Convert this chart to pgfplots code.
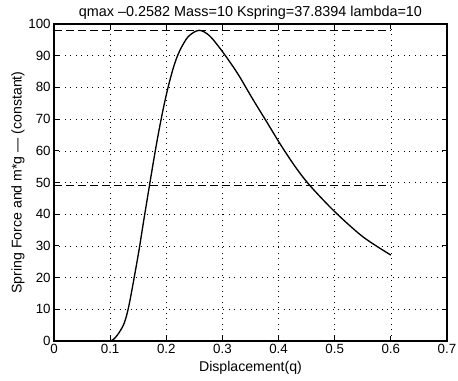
\documentclass[border=0pt]{standalone}
\usepackage{pgfplots}
\pgfplotsset{compat=1.18}
\usepackage{fontspec}
\setmainfont{Liberation Sans}
\begin{document}
\begin{tikzpicture}[x=1pt,y=1pt]
\begin{axis}[
  scale only axis,
  width=294.75pt, height=237.75pt,
  xmin=0, xmax=0.7, ymin=0, ymax=100,
  xtick={0,0.1,...,0.7}, ytick={0,10,...,100},
  xticklabels={0,0.1,0.2,0.3,0.4,0.5,0.6,0.7},
  /pgf/number format/assume math mode=true,
  tick align=inside, major tick length=4pt,
  xtick pos=both, ytick pos=both,
  grid=major,
  major grid style={black, line width=0.4pt, dash pattern=on 0.6pt off 3.5pt},
  axis line style={black, line width=0.8pt},
  tick style={black, line width=0.6pt},
  ticklabel style={font=\fontsize{10}{11}\selectfont},
  xticklabel style={yshift=1pt},
  yticklabel style={xshift=1pt},
  title={qmax –0.2582 Mass=10 Kspring=37.8394 lambda=10},
  title style={font=\fontsize{10.8}{12}\selectfont, yshift=-6pt},
  xlabel={Displacement(q)},
  ylabel={Spring Force and m*g — (constant)},
  label style={font=\fontsize{10.6}{12}\selectfont},
  xlabel style={yshift=1pt},
  ylabel style={yshift=-4pt},
]
\addplot[black, line width=1pt, smooth, tension=0.5] coordinates {
(0.1,0) (0.106,0.5) (0.113,1.9) (0.12,3.8) (0.125,5.6) (0.13,8.5) (0.135,12.5)
(0.142,19.2) (0.151,28.2) (0.16,38.2) (0.17,49) (0.178,57.5) (0.186,65.5)
(0.195,73.6) (0.204,80.6) (0.214,87.0) (0.224,91.6) (0.239,96) (0.2582,98)
(0.277,96.3) (0.3,91.3) (0.327,84.4) (0.353,76.6)
(0.38,68.8) (0.403,62.1) (0.43,54.9) (0.456,49.0) (0.5,40.8) (0.55,32.9) (0.6,27.1)
};
\addplot[black, line width=0.7pt, dash pattern=on 6pt off 3pt] coordinates {(0,98) (0.6,98)};
\addplot[black, line width=0.7pt, dash pattern=on 6pt off 3pt] coordinates {(0,49) (0.6,49)};
\end{axis}
\pgfresetboundingbox
\path[use as bounding box] (-40.5pt,-30pt) rectangle (303pt,255.75pt);
\end{tikzpicture}
\end{document}
